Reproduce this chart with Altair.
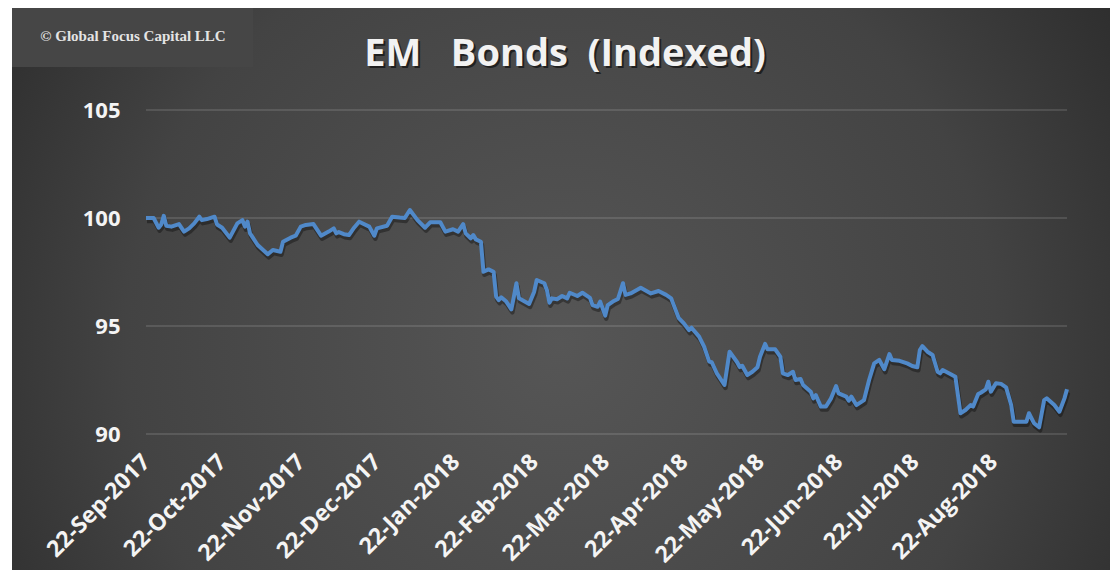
import altair as alt
import pandas as pd

# ---- data ----
# days elapsed since 22-Sep-2017 for each vertex of the line
day_offsets = [0, 3, 5, 6, 7, 8, 10, 13, 15, 17, 19, 21, 22, 24, 27, 28, 30, 33, 36, 38,
               39, 40, 41, 44, 48, 50, 53, 54, 57, 59, 61, 63, 66, 69, 72, 74, 75, 76, 78, 80,
               82, 84, 88, 90, 91, 95, 97, 100, 102, 104, 107, 110, 112, 116, 118, 121, 123, 125, 126, 128,
               129, 130, 132, 133, 135, 137, 138, 139, 140, 142, 144, 145, 146, 147, 151, 153, 154, 157, 158, 159,
               160, 162, 164, 166, 167, 170, 172, 175, 176, 178, 179, 180, 181, 182, 184, 186, 188, 189, 191, 195,
               199, 202, 205, 207, 210, 212, 214, 215, 218, 220, 222, 223, 225, 228, 230, 233, 234, 235, 237, 239,
               241, 242, 244, 245, 248, 250, 251, 253, 255, 256, 258, 259, 262, 263, 264, 266, 268, 270, 272, 273,
               276, 277, 278, 280, 283, 285, 287, 289, 291, 293, 294, 297, 300, 302, 304, 305, 306, 308, 310, 312,
               313, 314, 317, 319, 321, 323, 325, 326, 328, 329, 331, 332, 333, 335, 337, 339, 341, 342, 345, 347,
               348, 350, 352, 354, 355, 358, 360, 362, 363]
index_values = [100.0, 100.0, 99.55, 99.7, 100.1, 99.64, 99.6, 99.72, 99.37, 99.52, 99.75, 100.06, 99.9, 99.95, 100.06, 99.7, 99.55, 99.09, 99.75, 99.9,
                99.6, 99.83, 99.29, 98.75, 98.32, 98.52, 98.44, 98.9, 99.09, 99.18, 99.6, 99.68, 99.72, 99.18, 99.37, 99.52, 99.29, 99.35, 99.25, 99.21,
                99.55, 99.83, 99.6, 99.18, 99.52, 99.64, 100.06, 100.02, 100.0, 100.37, 99.9, 99.55, 99.8, 99.8, 99.37, 99.48, 99.37, 99.72, 99.29, 99.06,
                99.21, 99.01, 98.9, 97.51, 97.62, 97.51, 96.36, 96.2, 96.33, 96.13, 95.77, 96.36, 96.98, 96.28, 96.02, 96.59, 97.13, 96.98, 96.67, 96.08,
                96.28, 96.24, 96.39, 96.28, 96.54, 96.39, 96.54, 96.3, 95.97, 95.89, 96.13, 95.82, 95.48, 95.97, 96.13, 96.25, 96.98, 96.44, 96.51, 96.77,
                96.51, 96.62, 96.44, 96.28, 95.36, 95.12, 94.81, 94.92, 94.51, 94.04, 93.35, 93.32, 92.81, 92.27, 93.81, 93.32, 93.1, 93.16, 92.73, 92.88,
                93.09, 93.58, 94.17, 93.92, 93.92, 93.58, 92.81, 92.73, 92.88, 92.5, 92.55, 92.27, 91.96, 91.65, 91.8, 91.27, 91.27, 91.65, 92.22, 91.88,
                91.73, 91.54, 91.73, 91.34, 91.57, 92.5, 93.27, 93.43, 93.0, 93.7, 93.43, 93.39, 93.27, 93.15, 93.09, 93.89, 94.07, 93.81, 93.66, 92.88,
                92.81, 92.96, 92.78, 92.65, 90.96, 91.11, 91.34, 91.27, 91.85, 91.91, 92.07, 92.42, 91.96, 92.35, 92.32, 92.16, 91.34, 90.57, 90.57, 90.57,
                90.96, 90.5, 90.31, 91.57, 91.65, 91.34, 91.03, 91.65, 92.07]

y_ticks = [90, 95, 100, 105]
tick_months = [(2017, 9), (2017, 10), (2017, 11), (2017, 12), (2018, 1), (2018, 2),
               (2018, 3), (2018, 4), (2018, 5), (2018, 6), (2018, 7), (2018, 8)]
title_text = "EM\u00a0\u00a0\u00a0Bonds\u00a0\u00a0(Indexed)"
watermark_text = "\u00a9 Global Focus Capital LLC"

start = pd.Timestamp("2017-09-22")
df = pd.DataFrame({
    "date": [(start + pd.Timedelta(days=d)).strftime("%Y-%m-%dT00:00:00") for d in day_offsets],
    "value": index_values,
})
grid_df = pd.DataFrame({"value": y_ticks})
one = pd.DataFrame({"a": [0]})

W, H = 921, 324
PAD_L, PAD_T, PAD_R, PAD_B = 138, 102, 43, 136

x_scale = alt.Scale(domain=[alt.DateTime(year=2017, month=9, date=22),
                            alt.DateTime(year=2018, month=9, date=20)])
y_scale = alt.Scale(domain=[90, 105], nice=False, zero=False)

label_font = "Open Sans"

bg = alt.Chart(one).mark_rect(
    fill={
        "gradient": "radial",
        "x1": 0.5, "y1": 0.55, "x2": 0.5, "y2": 0.55, "r1": 0, "r2": 0.72,
        "stops": [{"offset": 0, "color": "#565656"}, {"offset": 0.55, "color": "#434343"},
                  {"offset": 1, "color": "#202020"}],
    }
).encode(x=alt.value(-PAD_L + 4), x2=alt.value(W + PAD_R), y=alt.value(-PAD_T - 1), y2=alt.value(H + PAD_B))

wm_box = alt.Chart(one).mark_rect(fill="#464646").encode(
    x=alt.value(-PAD_L + 4), x2=alt.value(107), y=alt.value(-PAD_T - 1), y2=alt.value(-43))
wm_text = alt.Chart(one).mark_text(
    text=watermark_text, font="Liberation Serif", fontWeight="bold", fontSize=15,
    color="#e4e4e4", align="center", baseline="alphabetic"
).encode(x=alt.value(-13), y=alt.value(-69))

title_shadow = alt.Chart(one).mark_text(
    text=title_text, font=label_font, fontWeight="bold", fontSize=38,
    color="#000000", opacity=0.55, align="center", baseline="alphabetic"
).encode(x=alt.value(421), y=alt.value(-42))
title = alt.Chart(one).mark_text(
    text=title_text, font=label_font, fontWeight="bold", fontSize=38,
    color="#f2f2f2", align="center", baseline="alphabetic"
).encode(x=alt.value(419), y=alt.value(-44))

y_axis = alt.Axis(
    values=y_ticks, labelFont=label_font, labelFontWeight="bold", labelFontSize=22,
    labelColor="#f4f4f4", labelPadding=26, grid=False, domain=False, ticks=False, zindex=1)

grid = alt.Chart(grid_df).mark_rule(color="#ffffff", opacity=0.16, strokeWidth=1.5).encode(
    y=alt.Y("value:Q", scale=y_scale, title=None, axis=y_axis), x=alt.value(0), x2=alt.value(W))

x_enc = alt.X("date:T", scale=x_scale, title=None, axis=alt.Axis(
    values=[alt.DateTime(year=y, month=m, date=22) for y, m in tick_months],
    format="%d-%b-%Y", labelAngle=-45, labelAlign="right", labelBaseline="middle",
    labelFont=label_font, labelFontWeight="bold", labelFontSize=23, labelColor="#f4f4f4",
    labelPadding=24, labelOverlap=False, grid=False, domain=False, ticks=False, zindex=1))
y_enc = alt.Y("value:Q", scale=y_scale, title=None, axis=y_axis)

line_shadow = alt.Chart(df).mark_line(
    color="#000000", opacity=0.35, strokeWidth=4.5, xOffset=1, yOffset=3, strokeJoin="round"
).encode(x=x_enc, y=y_enc)
line = alt.Chart(df).mark_line(
    color="#5089c9", strokeWidth=4, strokeJoin="round"
).encode(x=x_enc, y=y_enc)

chart = alt.layer(bg, wm_box, wm_text, title_shadow, title, grid, line_shadow, line).properties(
    width=W, height=H,
    autosize=alt.AutoSizeParams(type="none"),
    padding={"left": PAD_L, "top": PAD_T, "right": PAD_R, "bottom": PAD_B},
    background="#ffffff",
).configure_view(strokeWidth=0)

chart.save("out.html", embed_options={"renderer": "svg", "actions": False})
